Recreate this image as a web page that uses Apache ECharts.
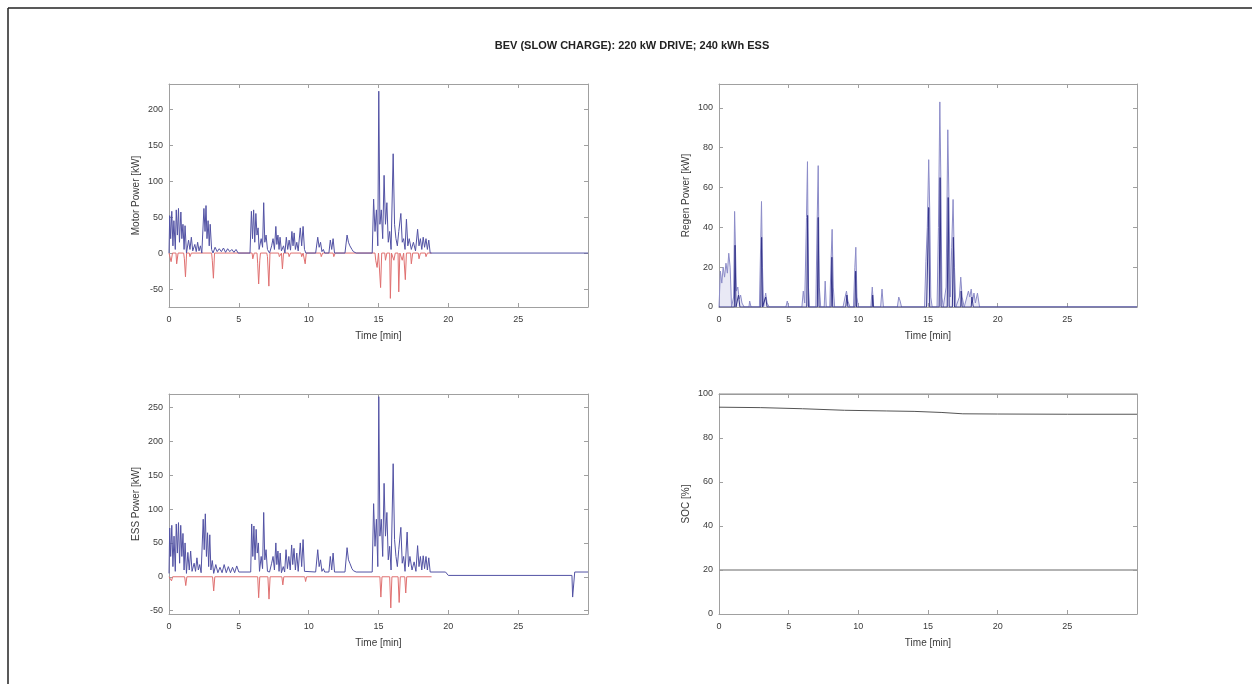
<!DOCTYPE html>
<html><head><meta charset="utf-8">
<script src="https://cdn.jsdelivr.net/npm/echarts@6/dist/echarts.min.js"></script>
<style>html,body{margin:0;padding:0;background:#fff}#c{width:1252px;height:684px}</style>
</head><body><div id="c"></div>
<script>
const chartTitle = 'BEV (SLOW CHARGE): 220 kW DRIVE; 240 kWh ESS';
const xTicks = [0, 5, 10, 15, 20, 25];
const motorTicks = [-50, 0, 50, 100, 150, 200];
const regenTicks = [0, 20, 40, 60, 80, 100];
const essTicks = [-50, 0, 50, 100, 150, 200, 250];
const socTicks = [0, 20, 40, 60, 80, 100];

// Motor power [kW]: traction (blue) and regen braking (red)
const motorBlue = [[0,0],[0.05,52],[0.12,20],[0.2,58],[0.28,10],[0.35,45],[0.45,5],[0.52,60],[0.6,25],[0.68,62],[0.75,15],[0.85,57],[0.92,20],[1.0,40],[1.08,5],[1.15,38],[1.25,0],[1.4,18],[1.5,5],[1.6,22],[1.7,3],[1.85,12],[1.95,2],[2.05,15],[2.15,3],[2.25,10],[2.35,0],[2.5,62],[2.58,30],[2.65,66],[2.72,20],[2.8,45],[2.88,10],[2.95,40],[3.05,5],[3.15,0],[3.3,8],[3.45,2],[3.6,6],[3.75,2],[3.9,7],[4.05,1],[4.2,6],[4.35,2],[4.5,5],[4.65,1],[4.8,5],[4.95,0],[5.8,0],[5.9,58],[5.98,20],[6.06,60],[6.14,15],[6.22,55],[6.3,25],[6.38,35],[6.45,5],[6.6,20],[6.7,8],[6.78,70],[6.86,15],[6.95,25],[7.05,5],[7.2,0],[7.35,10],[7.45,20],[7.55,5],[7.65,37],[7.72,12],[7.8,25],[7.88,5],[7.95,22],[8.05,3],[8.2,10],[8.3,0],[8.4,22],[8.5,5],[8.6,18],[8.7,4],[8.8,30],[8.88,10],[8.96,28],[9.05,5],[9.15,15],[9.25,3],[9.4,35],[9.5,10],[9.6,37],[9.7,5],[9.8,0],[10.5,0],[10.65,22],[10.75,8],[10.85,15],[10.95,2],[11.05,5],[11.15,0],[11.45,0],[11.55,18],[11.65,5],[11.75,20],[11.85,0],[12.6,0],[12.75,25],[12.85,15],[12.95,10],[13.1,5],[13.2,2],[13.4,0],[14.55,0],[14.65,75],[14.75,30],[14.85,60],[14.95,10],[15.02,225],[15.1,40],[15.2,60],[15.3,20],[15.4,108],[15.5,40],[15.6,70],[15.7,15],[15.8,30],[15.9,5],[16.05,138],[16.15,40],[16.25,20],[16.35,10],[16.45,30],[16.6,55],[16.7,15],[16.8,20],[16.9,5],[17.0,47],[17.1,10],[17.2,20],[17.35,5],[17.5,15],[17.65,3],[17.8,33],[17.9,10],[18.0,20],[18.1,5],[18.2,22],[18.3,8],[18.4,20],[18.5,5],[18.6,18],[18.7,0],[30,0]];
const motorRed = [[0,0],[0.1,0],[0.15,-12],[0.25,0],[0.5,0],[0.55,-15],[0.65,0],[1.05,0],[1.1,-8],[1.18,-33],[1.26,0],[1.45,0],[1.5,-5],[1.6,0],[3.05,0],[3.1,-10],[3.18,-35],[3.26,0],[5.95,0],[6.0,-8],[6.1,0],[6.3,0],[6.35,-15],[6.42,-43],[6.5,-10],[6.55,0],[7.0,0],[7.05,-5],[7.15,-46],[7.23,0],[7.85,0],[7.9,-5],[8.05,0],[8.12,-22],[8.2,0],[8.55,0],[8.6,-5],[8.7,0],[9.45,0],[9.5,-5],[9.6,0],[9.7,0],[9.75,-15],[9.83,0],[10.85,0],[10.9,-5],[11.0,0],[11.75,0],[11.8,-5],[11.9,0],[14.75,0],[14.8,-10],[14.9,-20],[15.0,0],[15.1,0],[15.15,-48],[15.23,0],[15.45,0],[15.5,-10],[15.6,0],[15.8,0],[15.85,-63],[15.93,0],[16.05,0],[16.1,-10],[16.2,0],[16.4,0],[16.45,-54],[16.53,0],[16.65,0],[16.7,-10],[16.8,0],[16.87,0],[16.92,-37],[17.0,0],[17.3,0],[17.35,-15],[17.45,0],[17.85,0],[17.9,-8],[18.0,0],[18.35,0],[18.4,-5],[18.5,0],[18.8,0]];

// Regen power [kW]: available (light) and captured (dark)
const regenAvail = [[0,0],[0.1,18],[0.2,12],[0.3,20],[0.4,15],[0.5,22],[0.6,17],[0.7,27],[0.8,20],[0.9,0],[1.05,5],[1.12,48],[1.18,30],[1.25,8],[1.35,10],[1.45,4],[1.55,6],[1.65,2],[1.8,0],[2.15,0],[2.2,3],[2.3,0],[2.9,0],[3.0,35],[3.05,53],[3.12,20],[3.2,0],[3.35,7],[3.45,2],[3.6,0],[4.8,0],[4.9,3],[5.0,0],[5.95,0],[6.05,8],[6.15,2],[6.28,45],[6.35,73],[6.42,10],[6.5,0],[6.95,0],[7.05,45],[7.12,71],[7.2,10],[7.3,0],[7.55,0],[7.62,13],[7.7,0],[7.95,0],[8.05,25],[8.12,39],[8.2,10],[8.3,0],[8.9,0],[9.05,5],[9.15,8],[9.25,3],[9.4,0],[9.65,0],[9.75,20],[9.82,30],[9.9,5],[10.0,0],[10.9,0],[11.0,10],[11.1,0],[11.6,0],[11.7,9],[11.8,0],[12.8,0],[12.9,5],[13.0,3],[13.1,0],[14.75,0],[14.85,23],[14.95,40],[15.05,74],[15.12,50],[15.2,5],[15.3,0],[15.65,0],[15.75,40],[15.85,103],[15.92,65],[16.0,5],[16.1,0],[16.3,10],[16.42,89],[16.5,55],[16.6,5],[16.7,30],[16.8,54],[16.9,20],[17.0,0],[17.25,5],[17.35,15],[17.45,5],[17.6,0],[17.9,8],[18.0,5],[18.1,9],[18.2,3],[18.3,7],[18.4,2],[18.55,7],[18.7,0],[19.9,0],[20.0,1],[20.1,0],[30,0]];
const regenCapt = [[0,0],[0.9,0],[1.1,0],[1.15,31],[1.22,0],[1.4,6],[1.5,0],[3.0,0],[3.06,35],[3.12,0],[3.35,5],[3.45,0],[6.3,0],[6.36,46],[6.42,0],[7.06,0],[7.12,45],[7.18,0],[8.05,0],[8.1,25],[8.16,0],[9.1,0],[9.18,6],[9.25,0],[9.76,0],[9.81,18],[9.87,0],[11.0,0],[11.03,6],[11.08,0],[14.9,0],[15.05,50],[15.12,0],[15.8,0],[15.87,65],[15.94,0],[16.38,0],[16.45,55],[16.52,0],[16.75,0],[16.82,35],[16.9,0],[17.35,0],[17.38,8],[17.45,0],[18.1,0],[18.15,5],[18.25,0],[30,0]];

// ESS power [kW]: discharge (blue) and charge (red)
const essBlue = [[0,5],[0.05,72],[0.12,30],[0.2,76],[0.28,15],[0.36,60],[0.45,8],[0.52,78],[0.6,35],[0.68,80],[0.76,20],[0.84,76],[0.92,30],[1.0,64],[1.08,10],[1.15,50],[1.25,5],[1.35,36],[1.45,10],[1.55,38],[1.65,8],[1.8,20],[1.9,8],[2.0,28],[2.1,10],[2.2,18],[2.3,6],[2.45,85],[2.52,40],[2.6,93],[2.68,30],[2.76,65],[2.84,15],[2.92,62],[3.0,10],[3.1,24],[3.2,5],[3.35,18],[3.5,6],[3.65,14],[3.8,6],[3.95,18],[4.1,6],[4.25,15],[4.4,6],[4.55,14],[4.7,6],[4.85,16],[5.0,7],[5.85,7],[5.92,78],[6.0,30],[6.08,75],[6.16,25],[6.24,70],[6.32,35],[6.4,50],[6.48,8],[6.6,30],[6.7,12],[6.78,95],[6.86,25],[6.95,40],[7.05,8],[7.2,7],[7.35,20],[7.45,30],[7.55,10],[7.65,50],[7.72,18],[7.8,38],[7.88,8],[7.96,35],[8.05,6],[8.18,15],[8.28,7],[8.38,40],[8.48,12],[8.58,30],[8.68,10],[8.78,47],[8.86,18],[8.95,42],[9.05,10],[9.15,35],[9.25,8],[9.4,50],[9.5,15],[9.6,55],[9.7,8],[9.8,7],[10.5,7],[10.65,40],[10.75,15],[10.85,25],[10.95,8],[11.05,12],[11.15,7],[11.45,7],[11.55,30],[11.65,10],[11.75,35],[11.85,7],[12.6,7],[12.75,43],[12.85,25],[12.95,20],[13.1,12],[13.2,9],[13.4,7],[14.55,7],[14.65,108],[14.75,45],[14.85,85],[14.95,15],[15.02,266],[15.1,60],[15.2,85],[15.3,30],[15.4,138],[15.5,60],[15.6,95],[15.7,25],[15.8,45],[15.9,10],[16.05,167],[16.15,55],[16.25,30],[16.35,15],[16.45,40],[16.6,73],[16.7,20],[16.8,30],[16.9,8],[17.05,66],[17.15,15],[17.25,30],[17.4,10],[17.55,22],[17.68,8],[17.8,46],[17.9,15],[18.0,30],[18.1,10],[18.2,31],[18.3,12],[18.4,30],[18.5,10],[18.6,28],[18.7,7],[19.8,7],[20.0,2],[28.85,2],[28.9,-30],[29.0,-28],[29.05,7],[30,7]];
const essRed = [[0,0],[0.1,0],[0.18,-6],[0.26,0],[1.12,0],[1.2,-13],[1.28,0],[3.12,0],[3.2,-21],[3.28,0],[6.35,0],[6.42,-31],[6.5,0],[7.08,0],[7.16,-33],[7.24,0],[8.08,0],[8.15,-12],[8.22,0],[9.72,0],[9.78,-7],[9.85,0],[15.1,0],[15.17,-30],[15.25,0],[15.8,0],[15.88,-46],[15.96,0],[16.4,0],[16.48,-38],[16.56,0],[16.88,0],[16.95,-24],[17.02,0],[18.8,0]];

// SOC [%]
const soc = [[0,94],[3,93.8],[6,93.3],[9,92.6],[12,92.3],[14,92.1],[16,91.6],[17.5,91],[20,90.9],[25,90.8],[30,90.8]];
const socMin = [[0,20],[30,20]];
const socMax = [[0,100],[30,100]];

const FONT = 'Liberation Sans, Arial, sans-serif';
const FRAME = '#a0a0a0';
const TXT = '#3a3a3a';

const grids = [
  {left:169, top:84, width:419, height:223},
  {left:719, top:84, width:418, height:223},
  {left:169, top:394, width:419, height:220},
  {left:719, top:394, width:418, height:220}
];
const yDefs = [
  {name:'Motor Power [kW]', min:-75, max:235, ticks:motorTicks},
  {name:'Regen Power [kW]', min:0, max:112, ticks:regenTicks},
  {name:'ESS Power [kW]', min:-55, max:270, ticks:essTicks},
  {name:'SOC [%]', min:0, max:100, ticks:socTicks}
];

const xAxes = [], yAxes = [];
grids.forEach((g, i) => {
  const tick = {show:true, inside:true, length:4, lineStyle:{color:FRAME}};
  xAxes.push({type:'value', gridIndex:i, position:'bottom', min:0, max:30,
    name:'Time [min]', nameLocation:'middle', nameGap:24,
    nameTextStyle:{fontFamily:FONT, fontSize:10, color:TXT},
    axisLine:{show:true, onZero:false, lineStyle:{color:FRAME}},
    axisTick:Object.assign({customValues:xTicks}, tick),
    axisLabel:{customValues:xTicks, fontFamily:FONT, fontSize:9, color:TXT, margin:8},
    splitLine:{show:false}});
  xAxes.push({type:'value', gridIndex:i, position:'top', min:0, max:30,
    axisLine:{show:true, onZero:false, lineStyle:{color:FRAME}},
    axisTick:Object.assign({customValues:xTicks}, tick),
    axisLabel:{show:false}, splitLine:{show:false}});
  const d = yDefs[i];
  yAxes.push({type:'value', gridIndex:i, position:'left', min:d.min, max:d.max,
    name:d.name, nameLocation:'middle', nameGap:28, nameRotate:90,
    nameTextStyle:{fontFamily:FONT, fontSize:10, color:TXT},
    axisLine:{show:true, onZero:false, lineStyle:{color:FRAME}},
    axisTick:Object.assign({customValues:d.ticks}, tick),
    axisLabel:{customValues:d.ticks, fontFamily:FONT, fontSize:9, color:TXT, margin:6},
    splitLine:{show:false}});
  yAxes.push({type:'value', gridIndex:i, position:'right', min:d.min, max:d.max,
    axisLine:{show:true, onZero:false, lineStyle:{color:FRAME}},
    axisTick:Object.assign({customValues:d.ticks}, tick),
    axisLabel:{show:false}, splitLine:{show:false}});
});

function line(data, gi, color, width, z, area) {
  const s = {type:'line', data:data, xAxisIndex:gi*2, yAxisIndex:gi*2, showSymbol:false,
    symbol:'none', lineStyle:{color:color, width:width}, z:z||2, silent:true};
  if (area) s.areaStyle = {color:area};
  return s;
}

const option = {
  animation:false,
  backgroundColor:'#fff',
  title:{text:chartTitle, left:627, top:35, textAlign:'center',
    textStyle:{fontFamily:FONT, fontSize:11, fontWeight:'bold', color:'#222'}},
  grid:grids,
  xAxis:xAxes,
  yAxis:yAxes,
  graphic:[
    {type:'line', shape:{x1:8, y1:8, x2:1252, y2:8}, style:{stroke:'#222', lineWidth:1.5}},
    {type:'line', shape:{x1:8, y1:8, x2:8, y2:684}, style:{stroke:'#222', lineWidth:1.5}}
  ],
  series:[
    line(motorRed, 0, '#e07070', 1, 2),
    line(motorBlue, 0, '#5252a4', 1, 3),
    line(regenAvail, 1, '#8c8cc8', 1, 2, 'rgba(150,150,210,0.3)'),
    line(regenCapt, 1, '#34348a', 1, 3),
    line(essRed, 2, '#e07070', 1, 2),
    line(essBlue, 2, '#5252a4', 1, 3),
    line(socMax, 3, '#9a9a9a', 1.5, 2),
    line(socMin, 3, '#9a9a9a', 1.5, 2),
    line(soc, 3, '#555555', 1, 3)
  ]
};
echarts.init(document.getElementById('c'), null, {renderer:'canvas'}).setOption(option);
</script>
</body></html>
